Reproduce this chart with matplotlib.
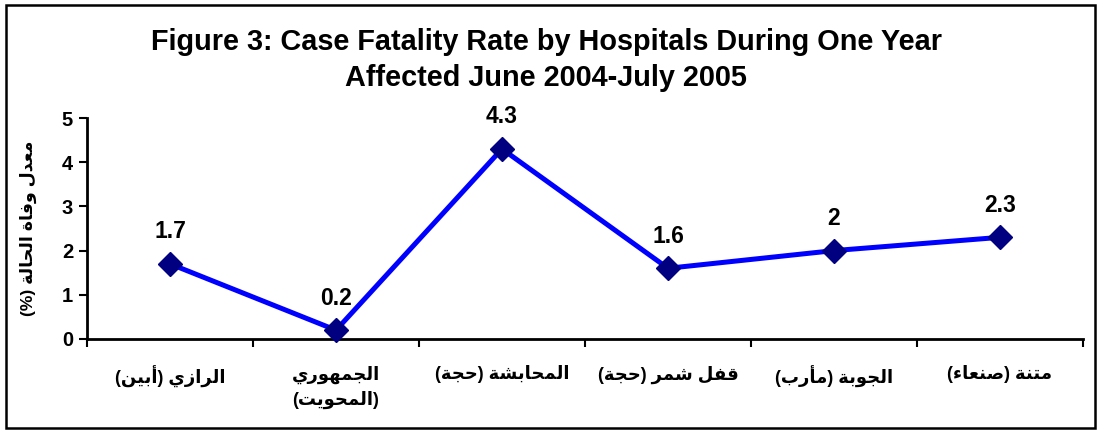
import matplotlib
matplotlib.use("Agg")
import matplotlib.pyplot as plt
from matplotlib.patches import Rectangle

# ---- data ----
hospitals = [
    "الرازي (أبين)",
    "الجمهوري\n(المحويت)",
    "المحابشة (حجة)",
    "قفل شمر (حجة)",
    "الجوبة (مأرب)",
    "متنة (صنعاء)",
]
fatality_rate = [1.7, 0.2, 4.3, 1.6, 2.0, 2.3]
value_labels = ["1.7", "0.2", "4.3", "1.6", "2", "2.3"]
y_ticks = [0, 1, 2, 3, 4, 5]
title_text = "Figure 3: Case Fatality Rate by Hospitals During One Year\nAffected June 2004-July 2005"
y_label_text = "معدل وفاة الحالة (%)"

FONT = ["Liberation Sans", "DejaVu Sans"]

# matplotlib has no Arabic shaping: map letters to presentation forms
# (base code point, number of forms: 4 = dual joining, 2 = right joining, 1 = none)
ARABIC_FORMS = {
    "ء": (0xFE80, 1), "آ": (0xFE81, 2), "أ": (0xFE83, 2), "ؤ": (0xFE85, 2),
    "إ": (0xFE87, 2), "ئ": (0xFE89, 4), "ا": (0xFE8D, 2), "ب": (0xFE8F, 4),
    "ة": (0xFE93, 2), "ت": (0xFE95, 4), "ث": (0xFE99, 4), "ج": (0xFE9D, 4),
    "ح": (0xFEA1, 4), "خ": (0xFEA5, 4), "د": (0xFEA9, 2), "ذ": (0xFEAB, 2),
    "ر": (0xFEAD, 2), "ز": (0xFEAF, 2), "س": (0xFEB1, 4), "ش": (0xFEB5, 4),
    "ص": (0xFEB9, 4), "ض": (0xFEBD, 4), "ط": (0xFEC1, 4), "ظ": (0xFEC5, 4),
    "ع": (0xFEC9, 4), "غ": (0xFECD, 4), "ف": (0xFED1, 4), "ق": (0xFED5, 4),
    "ك": (0xFED9, 4), "ل": (0xFEDD, 4), "م": (0xFEE1, 4), "ن": (0xFEE5, 4),
    "ه": (0xFEE9, 4), "و": (0xFEED, 2), "ى": (0xFEEF, 2), "ي": (0xFEF1, 4),
}
MIRROR = {"(": ")", ")": "("}


def shape_word(word):
    out = []
    for i, ch in enumerate(word):
        if ch not in ARABIC_FORMS:
            out.append(ch)
            continue
        base, n = ARABIC_FORMS[ch]
        prev = word[i - 1] if i > 0 else ""
        nxt = word[i + 1] if i + 1 < len(word) else ""
        join_prev = n >= 2 and prev in ARABIC_FORMS and ARABIC_FORMS[prev][1] == 4
        join_next = n == 4 and nxt in ARABIC_FORMS and ARABIC_FORMS[nxt][1] >= 2
        if join_prev and join_next:
            form = 3
        elif join_prev:
            form = 1
        elif join_next:
            form = 2
        else:
            form = 0
        out.append(chr(base + form))
    # visual order inside the word is right to left
    return "".join(MIRROR.get(c, c) for c in reversed(out))


def visual(text):
    # right-to-left: words and letters both reversed for left-to-right drawing
    lines = []
    for line in text.split("\n"):
        words = [shape_word(w) for w in line.split(" ")]
        lines.append(" ".join(words[::-1]))
    return "\n".join(lines)


fig = plt.figure(figsize=(10.99, 4.30), dpi=100)
ax = fig.add_axes([87 / 1099, 1 - 339 / 430, (1083 - 87) / 1099, (339 - 118) / 430])

x = list(range(len(hospitals)))
ax.plot(x, fatality_rate, color="#0000FF", linewidth=3.6, marker="D",
        markersize=12, markerfacecolor="#000080", markeredgecolor="#000080",
        clip_on=False, zorder=3)

for xi, yi, lab in zip(x, fatality_rate, value_labels):
    ax.annotate(lab, (xi, yi), xytext=(0, 23), textcoords="offset points",
                ha="center", va="center", fontsize=16.5, fontweight="bold",
                family=FONT)

ax.set_xlim(-0.5, len(hospitals) - 0.5)
ax.set_ylim(0, 5)
ax.set_yticks(y_ticks)
ax.set_yticklabels([str(t) for t in y_ticks], fontsize=14.5, fontweight="bold", family=FONT)
ax.set_xticks([i + 0.5 for i in range(-1, len(hospitals))], minor=False)
ax.set_xticklabels([])
ax.set_xticks(x, minor=True)
ax.set_xticklabels([visual(h) for h in hospitals], minor=True, fontsize=13,
                   fontweight="bold", family=FONT, linespacing=1.5, va="top")
ax.tick_params(axis="x", which="minor", length=0, pad=19)
ax.tick_params(axis="x", which="major", direction="out", length=6, width=1.5)
ax.tick_params(axis="y", direction="out", length=6, width=1.5, pad=4)

for side in ["top", "right"]:
    ax.spines[side].set_visible(False)
for side in ["left", "bottom"]:
    ax.spines[side].set_linewidth(2)
    ax.spines[side].set_color("black")

ax.set_ylabel(visual(y_label_text), fontsize=12.5, fontweight="bold", family=FONT)
ax.yaxis.set_label_coords(-50 / 996, 0.5)

fig.text(0.497, 1 - 60 / 430, title_text, ha="center", va="center",
         fontsize=20.8, fontweight="bold", family=FONT, linespacing=1.38)

fig.patches.append(Rectangle((6 / 1099, 2 / 430), 1089 / 1099, 423 / 430,
                             transform=fig.transFigure, fill=False,
                             edgecolor="black", linewidth=1.8))

fig.savefig("out.png", dpi=100)
